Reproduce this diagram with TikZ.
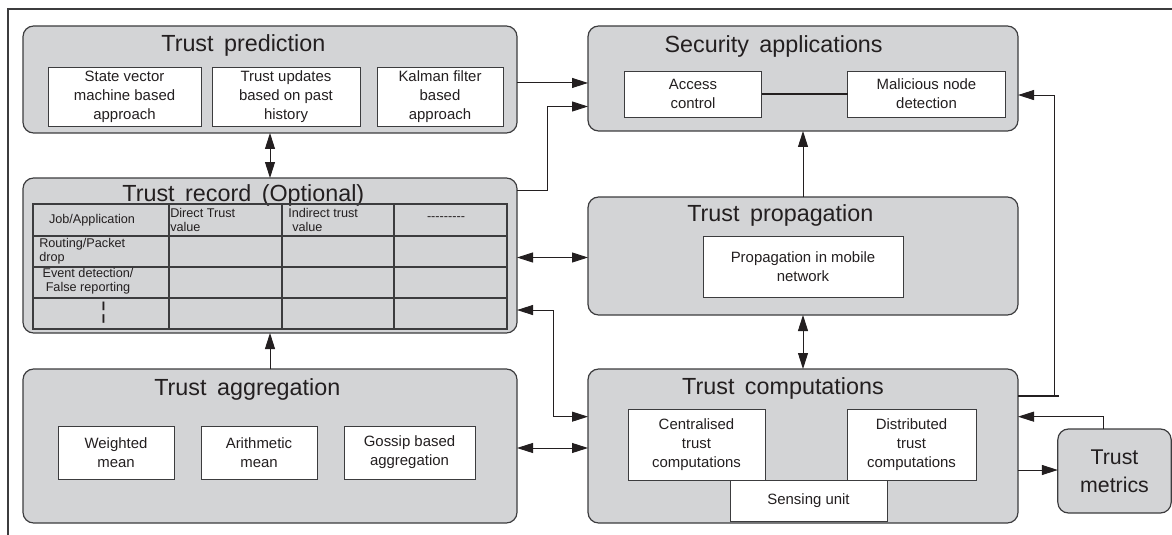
\documentclass[tikz,border=0pt]{standalone}
\usepackage{fontspec}
\setmainfont{Liberation Sans}
\usetikzlibrary{positioning, arrows.meta}

\definecolor{panelgray}{RGB}{211,212,214}
\definecolor{edgegray}{RGB}{60,60,62}
\definecolor{inkgray}{RGB}{35,31,32}

\newcommand{\titlefont}{\fontsize{17.5}{20}\selectfont\spaceskip 0.45em plus 0.1em\relax}

\begin{document}
\begin{tikzpicture}[
    x=0.75pt, y=-0.75pt,
    % --- Styles ---
    panel/.style={
        rectangle,
        rounded corners=8pt,
        draw=edgegray,
        fill=panelgray,
        line width=0.9pt,
        inner sep=0pt,
        outer sep=0pt
    },
    subbox/.style={
        rectangle,
        draw=edgegray,
        fill=white,
        line width=0.7pt,
        align=center,
        inner sep=0pt,
        outer sep=0pt,
        text=inkgray,
        font=\fontsize{11.2}{14.2}\selectfont
    },
    title/.style={
        anchor=base,
        inner sep=0pt,
        text=inkgray,
        font=\titlefont
    },
    cell/.style={
        inner sep=0pt,
        text=inkgray,
        font=\fontsize{9.5}{10.8}\selectfont
    },
    arrow/.style={
        -{Triangle[length=12pt, width=7.5pt]},
        draw=inkgray,
        line width=0.7pt
    },
    darrow/.style={
        {Triangle[length=12pt, width=7.5pt]}-{Triangle[length=12pt, width=7.5pt]},
        draw=inkgray,
        line width=0.7pt
    }
]
\useasboundingbox (0,0) rectangle (1172,535);

% --- Frame ---
\draw[edgegray, line width=1.2pt] (8,535) -- (8,9) -- (1172,9);

% --- Panels ---
\node[panel, minimum width=370.5pt, minimum height=80.25pt] (pred) at (270,79.5) {};
\node[panel, minimum width=370.5pt, minimum height=116.25pt] (rec) at (270,255.5) {};
\node[panel, minimum width=370.5pt, minimum height=115.5pt] (agg) at (270,446) {};
\node[panel, minimum width=322.5pt, minimum height=78.75pt] (sec) at (803,78.5) {};
\node[panel, minimum width=322.5pt, minimum height=88.5pt] (prop) at (803,256) {};
\node[panel, minimum width=322.5pt, minimum height=115.5pt] (comp) at (803,446) {};
\node[panel, minimum width=85pt, minimum height=63pt, align=center, text=inkgray,
      font=\fontsize{16}{21}\selectfont] (metrics) at (1114.5,471) {Trust\\metrics};

% --- Titles ---
\node[title] (predtitle) at ([xshift=-20pt, yshift=-19.5pt]pred.north) {Trust prediction};
\node[title] (rectitle) at ([xshift=-20pt, yshift=-17.7pt]rec.north) {Trust record (Optional)};
\node[title] (aggtitle) at ([xshift=-17pt, yshift=-19.5pt]agg.north) {Trust aggregation};
\node[title] (sectitle) at ([xshift=-22pt, yshift=-20pt]sec.north) {Security applications};
\node[title] (proptitle) at ([xshift=-17pt, yshift=-18.5pt]prop.north) {Trust propagation};
\node[title] (comptitle) at ([xshift=-15pt, yshift=-19pt]comp.north) {Trust computations};

% --- Nodes (relative positioning) ---
\node[subbox, minimum width=114.75pt, minimum height=44pt] (svm) at (124.5,97)
    {State vector\\machine based\\approach};
\node[subbox, minimum width=111pt, minimum height=44pt, right=8.25pt of svm] (upd)
    {Trust updates\\based on past\\history};
\node[subbox, minimum width=94.5pt, minimum height=44pt, right=12.75pt of upd] (kal)
    {Kalman filter\\based\\approach};

\node[subbox, minimum width=102.75pt, minimum height=34.5pt] (acc) at (693,94)
    {Access\\control};
\node[subbox, minimum width=118.5pt, minimum height=34.5pt, right=64.5pt of acc] (mal)
    {Malicious node\\detection};

\node[subbox, minimum width=150pt, minimum height=45.75pt] (mob) at (803,266.5)
    {Propagation in mobile\\network};

\node[subbox, minimum width=87pt, minimum height=39.75pt] (wm) at (116,452.5)
    {Weighted\\mean};
\node[subbox, minimum width=87pt, minimum height=39.75pt, right=20.25pt of wm] (am)
    {Arithmetic\\mean};
\node[subbox, minimum width=98.25pt, minimum height=39.75pt, right=20.25pt of am] (gos)
    {Gossip based\\aggregation};

\node[subbox, minimum width=102.75pt, minimum height=53.25pt] (cen) at (696.5,444.5)
    {Centralised\\trust\\computations};
\node[subbox, minimum width=96.75pt, minimum height=53.25pt, right=61.5pt of cen] (dis)
    {Distributed\\trust\\computations};
\node[subbox, minimum width=117.75pt, minimum height=30.75pt] (sen) at (808.5,500.5)
    {Sensing unit};

% --- Trust record table ---
\draw[edgegray, line width=0.8pt] (33,204) rectangle (507,329);
\draw[edgegray, line width=0.8pt] (169,204) -- (169,329);
\draw[edgegray, line width=0.8pt] (282,204) -- (282,329);
\draw[edgegray, line width=0.8pt] (394,204) -- (394,329);
\draw[edgegray, line width=0.8pt] (33,236) -- (507,236);
\draw[edgegray, line width=0.8pt] (33,267) -- (507,267);
\draw[edgegray, line width=0.8pt] (33,298) -- (507,298);

\node[cell] (job) at (92,220) {Job/Application};
\node[cell, anchor=west, align=left] (direct) at (170,220) {Direct Trust\\value};
\node[cell, anchor=west, align=left] (indirect) at (288,220) {Indirect trust\\\hspace*{3pt}value};
\node[cell] (more) at (446,219)
    {-\kern0pt-\kern0pt-\kern0pt-\kern0pt-\kern0pt-\kern0pt-\kern0pt-\kern0pt-};
\node[cell, anchor=west, align=left] (routing) at (39,251) {Routing/Packet\\drop};
\node[cell, align=center] (event) at (88,281.5) {Event detection/\\False reporting};
\node[cell, font=\fontsize{17}{17}\selectfont] (dots) at (103.5,313) {¦};

% --- Arrows ---
\draw[darrow] (pred) -- (rec);
\draw[arrow] (agg) -- (rec);
\draw[arrow] ([yshift=-2.6pt]pred.east) -- ([yshift=-2.6pt]pred.east -| sec.west);
\draw[arrow] ([yshift=-9pt]rec.north east) -- ++(22.5pt,0) |- ([yshift=-21pt]sec.west);
\draw[darrow] ([yshift=-1.5pt]rec.east) -- ([yshift=-1.5pt]rec.east -| prop.west);
\draw[darrow] ([yshift=-40.9pt]rec.east) -- ++(27pt,0) |- ([yshift=22pt]comp.west);
\draw[darrow] ([yshift=-1.5pt]agg.east) -- ([yshift=-1.5pt]agg.east -| comp.west);
\draw[arrow] (prop) -- (sec);
\draw[darrow] (prop) -- (comp);
\draw[inkgray, line width=1.5pt] (acc) -- (mal);
\draw[inkgray, line width=1.5pt] ([yshift=37.5pt]comp.east) -- ++(30.5pt,0);
\draw[arrow] ([yshift=37.5pt, xshift=27pt]comp.east) |- ([yshift=-12.4pt]sec.east);
\draw[arrow] ([yshift=-18pt]comp.east) -- ([yshift=-18pt]comp.east -| metrics.west);
\draw[arrow] ([xshift=-8pt]metrics.north) |- ([yshift=22pt]comp.east);

\end{tikzpicture}
\end{document}
